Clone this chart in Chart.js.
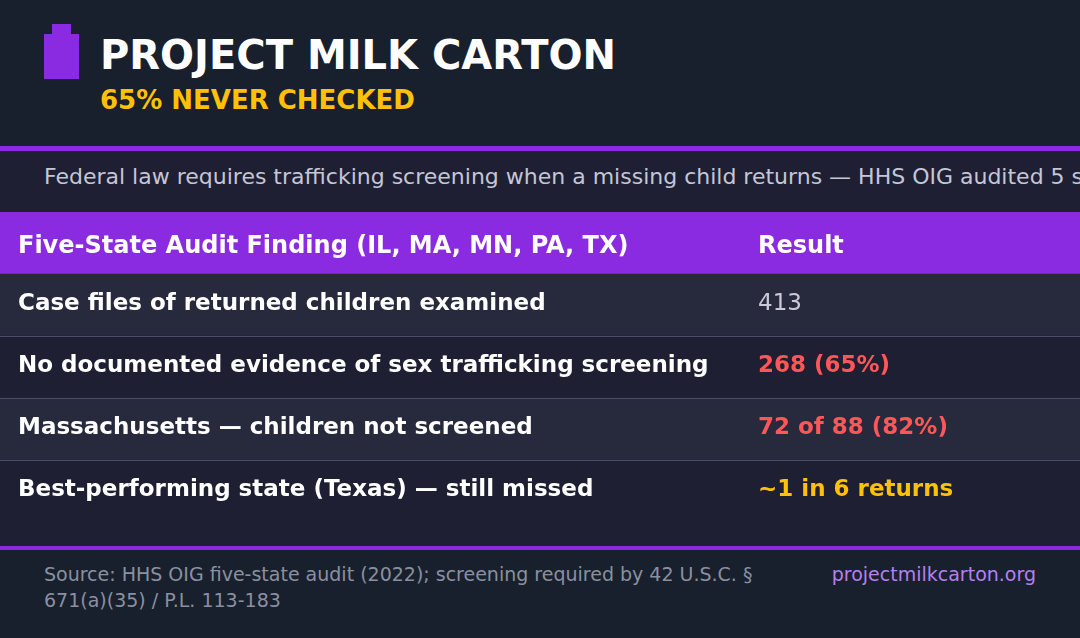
<!DOCTYPE html>
<html>
<head>
<meta charset="utf-8">
<script src="https://cdn.jsdelivr.net/npm/chart.js@4"></script>
<style>
  html, body { margin: 0; padding: 0; }
  body { width: 1080px; height: 638px; overflow: hidden; background: #17202c; font-family: "DejaVu Sans", sans-serif; position: relative; }
  .top { position: absolute; left: 0; top: 0; width: 1080px; height: 146px; background: #17202c; }
  .carton { position: absolute; left: 44px; top: 34px; width: 35px; height: 45px; background: #8a2be2; }
  .carton:before { content: ""; position: absolute; left: 8px; top: -10px; width: 19px; height: 10px; background: #8a2be2; }
  .title { position: absolute; left: 100px; top: 30px; font-size: 40px; font-weight: bold; color: #fff; line-height: 50px; white-space: nowrap; }
  .sub { position: absolute; left: 100px; top: 84px; font-size: 26px; font-weight: bold; color: #ffc107; line-height: 32px; white-space: nowrap; }
  .rule { position: absolute; left: 0; width: 1080px; height: 5px; background: #8a2be2; }
  .band { position: absolute; left: 0; top: 151px; width: 1080px; height: 61px; background: #1e1f33; overflow: hidden; }
  .band span { position: absolute; left: 44px; top: 13px; font-size: 22px; color: #c5c6d6; white-space: nowrap; line-height: 26px; }
  .wrap { position: absolute; left: 0; top: 212px; width: 1080px; height: 334px; background: #1e1f33; }
  .foot { position: absolute; left: 0; top: 550px; width: 1080px; height: 88px; background: #17202c; }
  .src { position: absolute; left: 44px; top: 11px; width: 740px; font-size: 19px; line-height: 26px; color: #8b90a0; }
  .link { position: absolute; right: 44px; top: 11px; font-size: 19px; line-height: 26px; color: #b77ff0; }
</style>
</head>
<body>
<div class="top">
  <div class="carton"></div>
  <div class="title">PROJECT MILK CARTON</div>
  <div class="sub">65% NEVER CHECKED</div>
</div>
<div class="rule" style="top:146px"></div>
<div class="band"><span>Federal law requires trafficking screening when a missing child returns — HHS OIG audited 5 states and found most returned children were never screened</span></div>
<div class="wrap"><canvas id="auditTable"></canvas></div>
<div class="rule" style="top:546px;height:4px"></div>
<div class="foot">
  <div class="src">Source: HHS OIG five-state audit (2022); screening required by 42 U.S.C. § 671(a)(35) / P.L. 113-183</div>
  <div class="link">projectmilkcarton.org</div>
</div>
<script>
// table content
var headers = ['Five-State Audit Finding (IL, MA, MN, PA, TX)', 'Result'];
var findings = [
    'Case files of returned children examined',
    'No documented evidence of sex trafficking screening',
    'Massachusetts — children not screened',
    'Best-performing state (Texas) — still missed'
];
var results = ['413', '268 (65%)', '72 of 88 (82%)', '~1 in 6 returns'];
var resultColors = ['#c8cad8', '#ff5757', '#ff5757', '#ffc107'];
var resultBold = [false, true, true, true];

var rowLabels = [headers[0]].concat(findings);
var rowFills = ['#8a2be2', '#272a3d', '#1e1f33', '#272a3d', '#1e1f33'];

var cellText = {
    id: 'cellText',
    afterDatasetsDraw: function(chart) {
        var ctx = chart.ctx;
        var yScale = chart.scales.y;
        ctx.save();
        ctx.textAlign = 'left';
        ctx.textBaseline = 'alphabetic';
        rowLabels.forEach(function(label, i) {
            var y = yScale.getPixelForValue(i);
            if (i === 0) {
                ctx.font = 'bold 24px "DejaVu Sans"';
                ctx.fillStyle = '#ffffff';
                ctx.fillText(label, 18, y + 10);
                ctx.fillText(headers[1], 758, y + 10);
            } else {
                ctx.font = 'bold 23px "DejaVu Sans"';
                ctx.fillStyle = '#ffffff';
                ctx.fillText(label, 18, y + 5);
                ctx.font = (resultBold[i - 1] ? 'bold ' : '') + '23px "DejaVu Sans"';
                ctx.fillStyle = resultColors[i - 1];
                ctx.fillText(results[i - 1], 758, y + 5);
            }
        });
        ctx.restore();
    }
};

var ctxTable = document.getElementById('auditTable').getContext('2d');
var auditTable = new Chart(ctxTable, {
    type: 'bar',
    data: {
        labels: rowLabels,
        datasets: [{
            data: rowLabels.map(() => [0, 1]),
            backgroundColor: rowFills,
            borderWidth: 0,
            barPercentage: 1,
            categoryPercentage: 1
        }]
    },
    options: {
        indexAxis: 'y',
        responsive: true,
        maintainAspectRatio: false,
        animation: false,
        layout: { padding: { bottom: 24 } },
        scales: {
            x: { display: false, min: 0, max: 1 },
            y: {
                ticks: { display: false },
                border: { display: false },
                grid: {
                    offset: true,
                    z: 1,
                    drawTicks: false,
                    lineWidth: 1,
                    color: ctx => (ctx.index >= 2 && ctx.index <= 4) ? '#4a4d6a' : 'rgba(0,0,0,0)'
                }
            }
        },
        plugins: {
            legend: { display: false },
            tooltip: { enabled: false }
        }
    },
    plugins: [cellText]
});
</script>
</body>
</html>
